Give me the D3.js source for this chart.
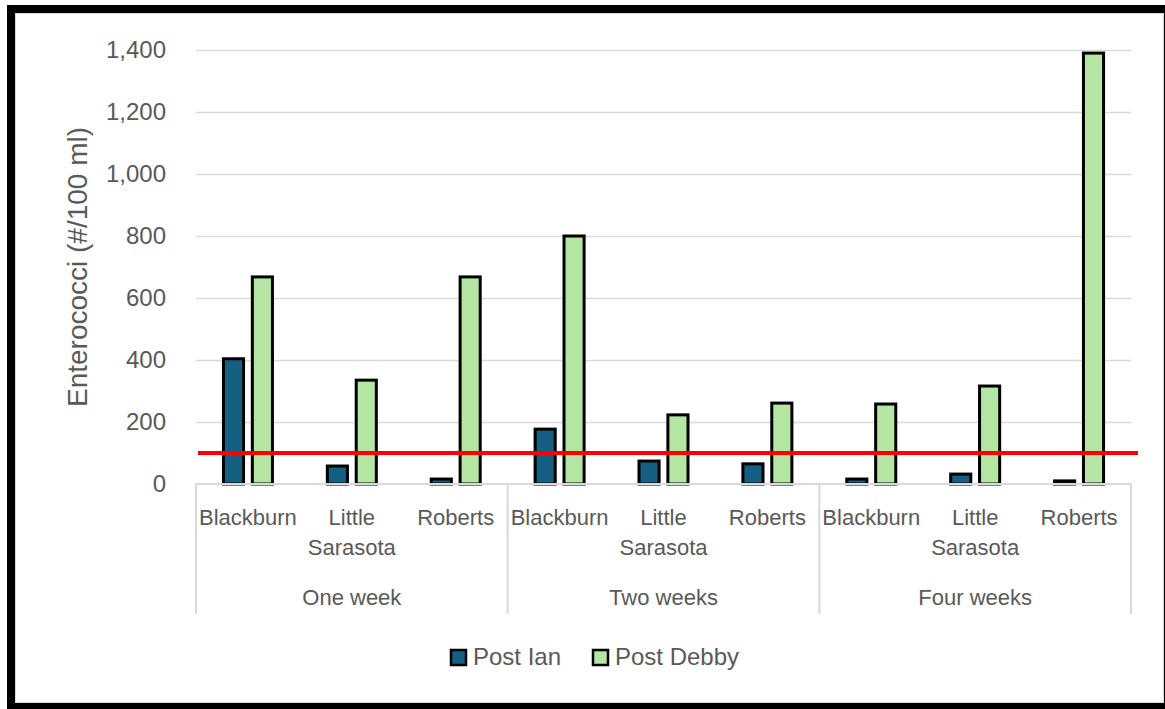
<!DOCTYPE html>
<html>
<head>
<meta charset="utf-8">
<script src="https://cdn.jsdelivr.net/npm/d3@7"></script>
<style>
  html, body { margin: 0; padding: 0; background: #fff; }
  svg text { font-family: "Liberation Sans", Arial, sans-serif; fill: #595959; }
</style>
</head>
<body>
<div id="chart"></div>
<script>
// chart values
const groups = ['One week', 'Two weeks', 'Four weeks'];
const sites = ['Blackburn', 'Little Sarasota', 'Roberts'];
const seriesNames = ['Post Ian', 'Post Debby'];
const postIan = [404, 58, 16, 177, 74, 65, 16, 32, 10];
const postDebby = [668, 335, 668, 800, 223, 261, 258, 316, 1390];
const yTicks = [0, 200, 400, 600, 800, 1000, 1200, 1400];
const threshold = 100;
const colors = ['#156082', '#b4e5a2'];

const W = 1165, H = 709;
const plot = {left: 196, right: 1131, top: 50, bottom: 484};

const svg = d3.select('#chart').append('svg')
    .attr('width', W)
    .attr('height', H);

// frame: black border with light inner line
svg.append('rect')
    .attr('x', 7).attr('y', 5)
    .attr('width', W).attr('height', H)
    .attr('fill', '#000');
svg.append('rect')
    .attr('x', 15.5).attr('y', 13.5)
    .attr('width', 1148).attr('height', 689)
    .attr('fill', '#fff')
    .attr('stroke', '#d9d9d9');

const cats = [];
groups.forEach(g => sites.forEach(s => cats.push(g + '|' + s)));
const data = cats.map((c, i) => ({key: c, values: [postIan[i], postDebby[i]]}));

const x0 = d3.scaleBand().domain(cats).range([plot.left, plot.right]).padding(0);
const xg = d3.scaleBand().domain(groups).range([plot.left, plot.right]).padding(0);
const y = d3.scaleLinear().domain([0, 1400]).range([plot.bottom, plot.top]);

// gridlines
const yAxis = d3.axisLeft(y)
    .tickValues(yTicks)
    .tickSize(-(plot.right - plot.left))
    .tickFormat(d3.format(','))
    .tickPadding(30);
const yg = svg.append('g')
    .attr('transform', `translate(${plot.left},0)`)
    .call(yAxis);
yg.select('.domain').remove();
yg.selectAll('.tick line')
    .attr('stroke', '#d9d9d9')
    .attr('stroke-width', 1.3)
    .filter(d => d === 0).remove();
yg.selectAll('.tick text')
    .attr('font-size', 24)
    .attr('fill', '#595959')
    .attr('font-family', '"Liberation Sans", Arial, sans-serif');

// y title
svg.append('text')
    .attr('transform', `translate(87, ${(plot.top + plot.bottom) / 2}) rotate(-90)`)
    .attr('text-anchor', 'middle')
    .attr('font-size', 28)
    .text('Enterococci (#/100 ml)');

// bars
const inner = d3.scaleBand().domain(seriesNames).range([-26, 26]).paddingInner(0.2);
const catG = svg.append('g').selectAll('g')
    .data(data)
    .join('g')
    .attr('transform', d => `translate(${x0(d.key) + x0.bandwidth() / 2},0)`);
catG.selectAll('rect')
    .data(d => d.values.map((v, i) => ({name: seriesNames[i], value: v, i})))
    .join('rect')
    .attr('x', d => inner(d.name) + 1.5)
    .attr('width', inner.bandwidth() - 3)
    .attr('y', d => y(d.value))
    .attr('height', d => y(0) - y(d.value))
    .attr('fill', d => colors[d.i])
    .attr('stroke', '#000')
    .attr('stroke-width', 3);

// category axis
const axisBottom = 614;
svg.append('line')
    .attr('x1', plot.left).attr('x2', plot.right)
    .attr('y1', y(0)).attr('y2', y(0))
    .attr('stroke', '#d9d9d9').attr('stroke-width', 2);
const seps = groups.map(g => xg(g)).concat([plot.right]);
svg.selectAll('.sep')
    .data(seps)
    .join('line')
    .attr('class', 'sep')
    .attr('x1', d => d).attr('x2', d => d)
    .attr('y1', y(0)).attr('y2', axisBottom)
    .attr('stroke', '#d9d9d9').attr('stroke-width', 2);

const catLabels = svg.append('g').selectAll('text')
    .data(cats)
    .join('text')
    .attr('x', d => x0(d) + x0.bandwidth() / 2)
    .attr('y', 525)
    .attr('text-anchor', 'middle')
    .attr('font-size', 22);
catLabels.each(function(d) {
    const words = d.split('|')[1].split(' ');
    d3.select(this).selectAll('tspan')
        .data(words)
        .join('tspan')
        .attr('x', x0(d) + x0.bandwidth() / 2)
        .attr('dy', (w, i) => i === 0 ? 0 : 30)
        .text(w => w);
});

svg.append('g').selectAll('text')
    .data(groups)
    .join('text')
    .attr('x', d => xg(d) + xg.bandwidth() / 2)
    .attr('y', 605)
    .attr('text-anchor', 'middle')
    .attr('font-size', 22)
    .text(d => d);

// threshold line
svg.append('line')
    .attr('x1', plot.left + 2).attr('x2', plot.right + 7)
    .attr('y1', y(threshold)).attr('y2', y(threshold))
    .attr('stroke', '#ff0000')
    .attr('stroke-width', 4);

// legend
const legendX = [450, 592];
const leg = svg.append('g').selectAll('g')
    .data(seriesNames)
    .join('g')
    .attr('transform', (d, i) => `translate(${legendX[i]},649)`);
leg.append('rect')
    .attr('x', 1).attr('y', 1)
    .attr('width', 15).attr('height', 15)
    .attr('fill', (d, i) => colors[i])
    .attr('stroke', '#000')
    .attr('stroke-width', 2.5);
leg.append('text')
    .attr('x', 23)
    .attr('y', 16)
    .attr('font-size', 24)
    .text(d => d);
</script>
</body>
</html>
